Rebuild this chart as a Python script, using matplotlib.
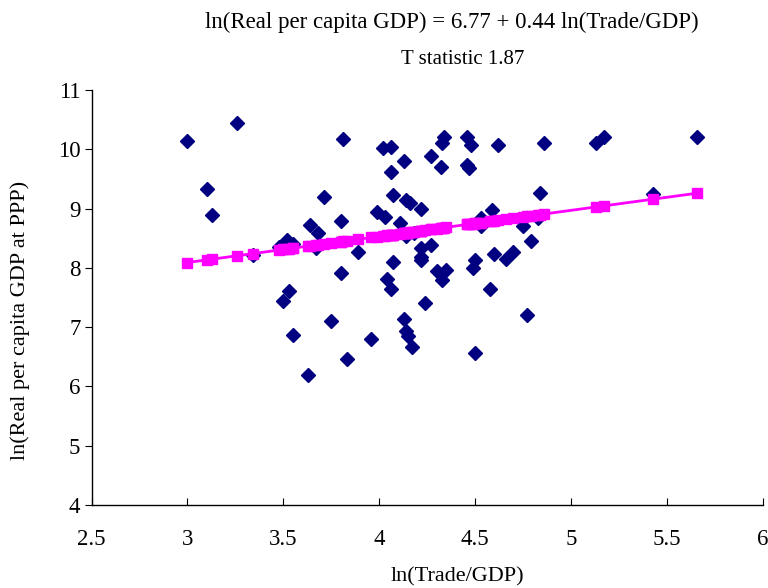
import matplotlib
matplotlib.use("Agg")
import matplotlib.pyplot as plt
import numpy as np

plt.rcParams['font.family'] = ['Liberation Serif', 'DejaVu Serif']

trade = [3.00, 3.26, 3.81, 3.10, 3.13, 3.71, 3.80, 3.64, 3.68, 3.52, 3.67, 3.34, 3.80,
         3.53, 3.50, 3.75, 3.55, 3.83, 3.63, 4.02, 4.06, 4.34, 4.33, 4.46, 4.48, 4.62,
         4.13, 4.27, 4.32, 4.46, 4.47, 4.06, 4.07, 4.14, 4.16, 4.22, 3.99, 4.03, 4.59,
         4.53, 4.53, 4.75, 4.79, 4.11, 4.14, 4.18, 3.89, 4.22, 4.27, 4.22, 4.22, 4.07,
         4.30, 4.35, 4.33, 4.50, 4.49, 4.60, 4.66, 4.70, 4.04, 4.06, 4.58, 4.86, 5.13,
         5.17, 5.66, 4.84, 5.43, 4.83, 4.24, 4.13, 4.14, 4.15, 3.96, 4.17, 4.50, 4.77,
         3.55, 3.48]
gdp = [10.14, 10.44, 10.17, 9.33, 8.89, 9.20, 8.79, 8.72, 8.59, 8.47, 8.34, 8.22, 7.91,
       7.61, 7.44, 7.10, 6.87, 6.46, 6.19, 10.02, 10.04, 10.21, 10.10, 10.21, 10.07, 10.07,
       9.81, 9.88, 9.70, 9.74, 9.69, 9.61, 9.23, 9.15, 9.09, 8.99, 8.94, 8.86, 8.98,
       8.84, 8.70, 8.70, 8.45, 8.75, 8.53, 8.58, 8.27, 8.33, 8.39, 8.19, 8.13, 8.10,
       7.94, 7.96, 7.80, 8.13, 7.99, 8.23, 8.15, 8.27, 7.82, 7.64, 7.64, 10.11, 10.11,
       10.21, 10.21, 9.27, 9.25, 8.84, 7.40, 7.13, 6.94, 6.85, 6.80, 6.66, 6.57, 7.21,
       8.40, 8.36]

intercept = 6.77
slope = 0.44

title1 = "ln(Real per capita GDP) = 6.77 + 0.44 ln(Trade/GDP)"
title2 = "T statistic 1.87"
xlabel = "ln(Trade/GDP)"
ylabel = "ln(Real per capita GDP at PPP)"
xticks = [2.5, 3, 3.5, 4, 4.5, 5, 5.5, 6]
xticklabels = ["2.5", "3", "3.5", "4", "4.5", "5", "5.5", "6"]
yticks = [4, 5, 6, 7, 8, 9, 10, 11]

fig = plt.figure(figsize=(7.68, 5.88), dpi=100)
W, H = 768, 588
ax = fig.add_axes([91.5 / W, 1 - 505 / H, (762.7 - 91.5) / W, (505 - 90) / H])

x = np.array(trade)
y = np.array(gdp)
ax.plot(x, y, linestyle='none', marker='D', markersize=7.5, color='#000080',
        markeredgecolor='#000080', zorder=2)

order = np.argsort(x)
xs = x[order]
fit = intercept + slope * xs
ax.plot(xs, fit, color='#FF00FF', linewidth=2, marker='s', markersize=6.5,
        markeredgecolor='#FF00FF', zorder=3)

ax.set_xlim(2.5, 6)
ax.set_ylim(4, 11)
ax.set_xticks(xticks)
ax.set_xticklabels(xticklabels)
ax.set_yticks(yticks)
for s in ['top', 'right']:
    ax.spines[s].set_visible(False)
for s in ['left', 'bottom']:
    ax.spines[s].set_linewidth(1.0)
    ax.spines[s].set_color('black')
ax.tick_params(axis='x', direction='in', length=5, labelsize=16.5, pad=17)
ax.tick_params(axis='y', direction='out', length=5, labelsize=16.5, pad=3)

fig.text(452 / W, 1 - 22 / H, title1, ha='center', va='center', fontsize=16.5)
fig.text(463 / W, 1 - 59 / H, title2, ha='center', va='center', fontsize=15)
fig.text(457 / W, 1 - 577 / H, xlabel, ha='center', va='center', fontsize=16)
fig.text(20 / W, 1 - 320 / H, ylabel, ha='center', va='center', fontsize=16, rotation=90)

fig.savefig("out.png", dpi=100)
